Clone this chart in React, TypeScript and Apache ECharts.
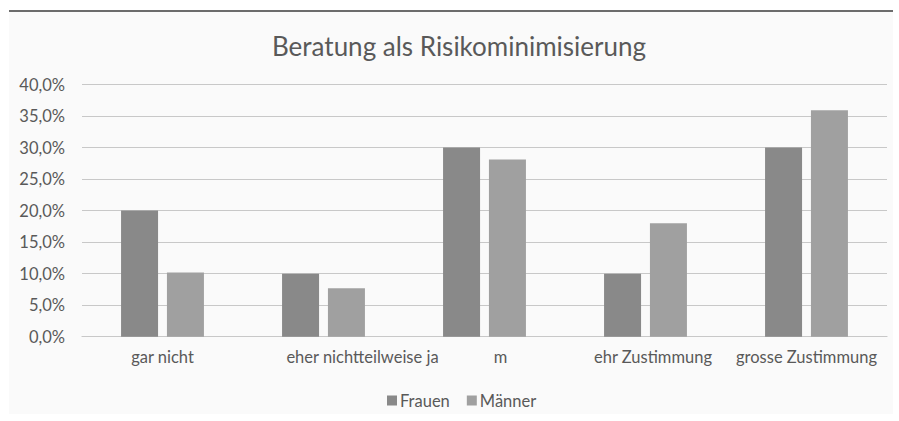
import React, { useEffect, useRef } from "react";
import * as echarts from "echarts";

const titleText = "Beratung als Risikominimisierung";
const categories = ["gar nicht", "eher nichtteilweise ja", "m", "ehr Zustimmung", "grosse Zustimmung"];
const labelShifts = [0, 78, 32, 15, 0];
const seriesNames = ["Frauen", "Männer"];
const frauen = [20.0, 10.0, 30.0, 10.0, 30.0];
const maenner = [10.2, 7.7, 28.1, 18.0, 35.9];
const yMin = 0;
const yMax = 40;
const yStep = 5;

const FONT = "Lato";
const TEXT = "#595959";

export default function App() {
  const ref = useRef<HTMLDivElement>(null);
  useEffect(() => {
    if (!ref.current) return;
    const chart = echarts.init(ref.current, undefined, { renderer: "svg" });
    chart.setOption({
      animation: false,
      backgroundColor: "#fafafa",
      textStyle: { fontFamily: FONT },
      title: {
        text: titleText,
        left: 450,
        top: 21,
        padding: 0,
        textAlign: "center",
        textStyle: { fontFamily: FONT, fontSize: 26, fontWeight: "normal", color: TEXT },
      },
      legend: {
        data: seriesNames,
        left: 378,
        top: 380,
        padding: 0,
        itemWidth: 10,
        itemHeight: 10,
        itemGap: 17,
        icon: "rect",
        textStyle: { fontFamily: FONT, fontSize: 16.5, color: TEXT, padding: [0, 0, 0, -2] },
      },
      grid: { left: 73, right: 6, top: 72.5, bottom: 77.3, containLabel: false },
      xAxis: {
        type: "category",
        data: categories.map((c, i) => ({
          value: c,
          textStyle: { padding: [0, 0, 0, labelShifts[i]] },
        })),
        axisLine: { lineStyle: { color: "#c8c8c8", width: 1.2 } },
        axisTick: { show: false },
        axisLabel: { interval: 0, margin: 12, fontFamily: FONT, fontSize: 16.5, color: TEXT },
      },
      yAxis: {
        type: "value",
        min: yMin,
        max: yMax,
        interval: yStep,
        axisLine: { show: false },
        axisTick: { show: false },
        splitLine: { lineStyle: { color: "#c8c8c8", width: 1.2 } },
        axisLabel: {
          margin: 17,
          fontFamily: FONT,
          fontSize: 16.5,
          color: TEXT,
          formatter: (v: number) => v.toFixed(1).replace(".", ",") + "%",
        },
      },
      series: [
        {
          name: seriesNames[0],
          type: "bar",
          data: frauen,
          barWidth: 37,
          barGap: "24%",
          itemStyle: { color: "#898989" },
        },
        {
          name: seriesNames[1],
          type: "bar",
          data: maenner,
          barWidth: 37,
          barGap: "24%",
          itemStyle: { color: "#a0a0a0" },
        },
      ],
    });
    return () => chart.dispose();
  }, []);
  return (
    <div
      style={{
        position: "absolute",
        left: 9,
        top: 10,
        width: 884,
        height: 402,
        borderTop: "2px solid #6c6c6c",
        background: "#fafafa",
      }}
    >
      <div ref={ref} style={{ width: 884, height: 402 }} />
    </div>
  );
}
